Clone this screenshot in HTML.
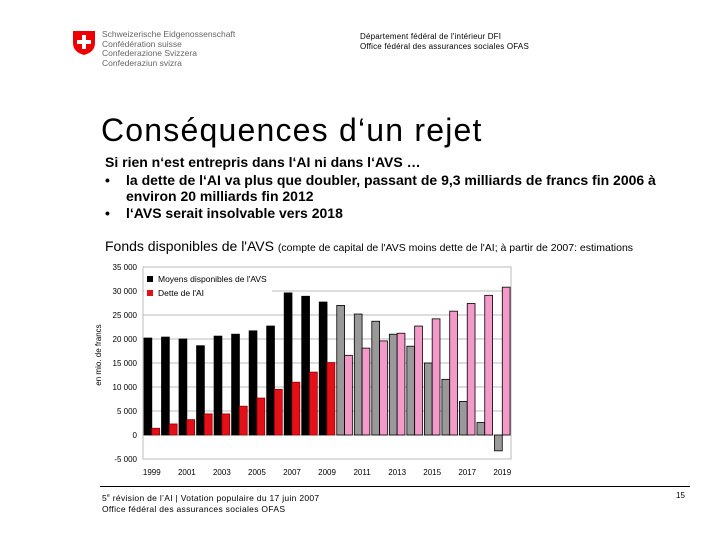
<!DOCTYPE html>
<html><head><meta charset="utf-8"><style>
body{margin:0;width:720px;height:540px;background:#fff;font-family:"Liberation Sans",sans-serif;position:relative;overflow:hidden}
.a{position:absolute;white-space:nowrap}
</style></head><body>
<svg class="a" style="left:72px;top:30px" width="24" height="26">
<path d="M1 1H23V13Q23 22 12 25Q1 22 1 13Z" fill="#e00"/>
<rect x="10" y="5" width="4" height="14" fill="#fff"/><rect x="5" y="10" width="14" height="4" fill="#fff"/></svg>
<div class="a" style="left:102px;top:30px;font-size:8.5px;line-height:9.5px;color:#666">Schweizerische Eidgenossenschaft<br>Confédération suisse<br>Confederazione Svizzera<br>Confederaziun svizra</div>
<div class="a" style="left:360px;top:32px;font-size:8px;letter-spacing:0.2px;line-height:10px;color:#000">Département fédéral de l'intérieur DFI<br>Office fédéral des assurances sociales OFAS</div>
<div class="a" style="left:101px;top:112px;font-size:32px;letter-spacing:1.2px;color:#000">Conséquences d‘un rejet</div>
<div class="a" style="left:105px;top:155px;font-size:14px;font-weight:bold;line-height:15px">Si rien n‘est entrepris dans l‘AI ni dans l‘AVS …</div>
<div class="a" style="left:105px;top:172px;font-size:14px;font-weight:bold;line-height:16px">•<span style="position:absolute;left:21px">la dette de l‘AI va plus que doubler, passant de 9,3 milliards de francs fin 2006 à<br>environ 20 milliards fin 2012</span></div>
<div class="a" style="left:105px;top:205px;font-size:14px;font-weight:bold">•<span style="position:absolute;left:21px">l‘AVS serait insolvable vers 2018</span></div>
<div class="a" style="left:105px;top:238px;font-size:14px">Fonds disponibles de l'AVS <span style="font-size:10.5px">(compte de capital de l'AVS moins dette de l'AI; à partir de 2007: estimations</span></div>
<svg id="chart" class="a" style="left:0;top:0" width="720" height="540"></svg>
<div class="a" style="left:100px;top:486px;width:590px;border-top:1px solid #000"></div>
<div class="a" style="left:102px;top:491px;font-size:8.5px;letter-spacing:0.3px;line-height:11px">5<sup style="font-size:5px">e</sup> révision de l’AI | Votation populaire du 17 juin 2007<br>Office fédéral des assurances sociales OFAS</div>
<div class="a" style="left:676px;top:491px;font-size:8px">15</div>
<script>
const years=[1999,2000,2001,2002,2003,2004,2005,2006,2007,2008,2009,2010,2011,2012,2013,2014,2015,2016,2017,2018,2019];
const avs=[20200,20400,20000,18600,20600,21000,21700,22700,29600,28900,27700,27000,25200,23700,21000,18500,15000,11600,7000,2600,-3300];
const aiDebt=[1400,2300,3200,4400,4400,6000,7700,9500,11000,13100,15100,16600,18100,19600,21200,22700,24200,25800,27400,29100,30800];
const ticks=[35000,30000,25000,20000,15000,10000,5000,0,-5000];
const tickLabels=["35 000","30 000","25 000","20 000","15 000","10 000","5 000","0","-5 000"];
const firstEstimate=2010;
const NS="http://www.w3.org/2000/svg",svg=document.getElementById('chart');
const x0=143,x1=511,pitch=(x1-x0)/years.length;
const y=v=>435-v*24/5000;
const xs=i=>x0+1+i*pitch;
function mk(t,a,txt){const e=document.createElementNS(NS,t);for(const k in a)e.setAttribute(k,a[k]);if(txt!=null)e.textContent=txt;svg.appendChild(e);return e;}
ticks.forEach((t,i)=>{
 const g=mk('line',{x1:x0,x2:x1,y1:y(t),y2:y(t),stroke:'#bbb','stroke-width':1});
 
 
 const l=mk('text',{x:137,y:y(t)+3,'text-anchor':'end','font-size':8,fill:'#000','font-family':'Liberation Sans'},tickLabels[i]);
 
 
});
const fr=mk('rect',{x:x0,y:y(35000),width:x1-x0,height:y(-5000)-y(35000),fill:'none',stroke:'#bbb'});


const bw=7.8;
years.forEach((yr,i)=>{
 const est=yr>=firstEstimate;
 const v=avs[i];
 const b=mk('rect',{x:xs(i),y:Math.min(y(v),y(0)),width:bw,height:Math.abs(y(v)-y(0)),fill:est?'#999':'#000',stroke:'#000','stroke-width':0.8});
 
 
 const d=aiDebt[i];
 const r=mk('rect',{x:xs(i)+bw,y:y(d),width:bw,height:y(0)-y(d),fill:est?'#f49ac8':'#e3101a',stroke:est?'#000':'#900','stroke-width':0.8});
 
 
 if(i%2==0){const t=mk('text',{x:xs(i)+bw,y:475,'text-anchor':'middle','font-size':8,'font-family':'Liberation Sans'},yr);
 
 }
});
const yt=mk('text',{x:101,y:355,'text-anchor':'middle','font-size':8,transform:'rotate(-90 101 355)','font-family':'Liberation Sans'},'en mio. de francs');


const lb=mk('rect',{x:144,y:270,width:128,height:32,fill:'#fff'});


[['#000','Moyens disponibles de l\'AVS',281],['#e3101a','Dette de l\'AI',295]].forEach(([c,l,yy])=>{
 const s=mk('rect',{x:147,y:yy-5,width:6,height:6,fill:c});
 
 
 const t=mk('text',{x:158,y:yy+1,'font-size':8.5,'font-family':'Liberation Sans'},l);
 
 
});
</script>
</body></html>
